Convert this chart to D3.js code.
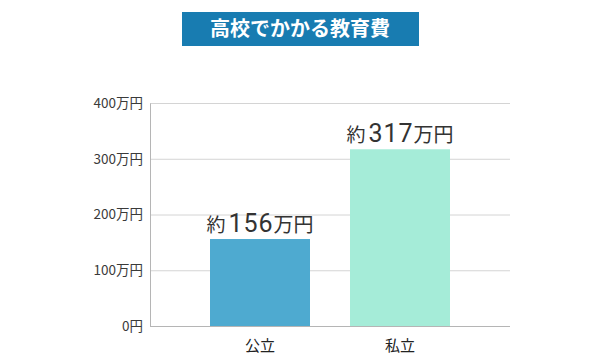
<!DOCTYPE html>
<html>
<head>
<meta charset="utf-8">
<script src="https://cdn.jsdelivr.net/npm/d3@7"></script>
<style>
  body { margin: 0; background: #fff; }
  svg text { font-family: "Noto Sans CJK JP", "Noto Sans", sans-serif; }
</style>
</head>
<body>
<script>
// Data
const categories = ["公立", "私立"];
const values = [156, 317];
const barColors = ["#4eaad0", "#a5ecd8"];
const yTicks = [0, 100, 200, 300, 400];
const title = "高校でかかる教育費";

const width = 600, height = 360;
const margin = { top: 103, right: 90, bottom: 34, left: 150 };

const svg = d3.select("body")
    .append("svg")
    .attr("width", width)
    .attr("height", height);

// Title box
svg.append("rect")
    .attr("x", 182)
    .attr("y", 12)
    .attr("width", 237)
    .attr("height", 34)
    .attr("fill", "#187cb1");

svg.append("text")
    .attr("x", 300)
    .attr("y", 36)
    .attr("text-anchor", "middle")
    .attr("fill", "#fff")
    .attr("font-size", 20)
    .attr("font-weight", "bold")
    .text(title);

// Scales
const x = d3.scaleBand()
    .domain(categories)
    .range([margin.left, width - margin.right])
    .paddingInner(2 / 7)
    .paddingOuter(3 / 7);

const y = d3.scaleLinear()
    .domain([0, 400])
    .range([height - margin.bottom, margin.top]);

// Gridlines
svg.append("g")
    .selectAll("line")
    .data(yTicks)
    .join("line")
    .attr("x1", margin.left)
    .attr("x2", width - margin.right)
    .attr("y1", d => y(d) + 0.5)
    .attr("y2", d => y(d) + 0.5)
    .attr("stroke", "#d4d4d4")
    .attr("stroke-width", 1);

// Y axis
const yAxis = svg.append("g")
    .attr("transform", `translate(${margin.left},0)`)
    .call(d3.axisLeft(y)
        .tickValues(yTicks)
        .tickSize(0)
        .tickPadding(7)
        .tickFormat(d => d === 0 ? "0円" : d + "万円"));
yAxis.select(".domain").attr("stroke", "#b5b5b5");
yAxis.selectAll("text")
    .attr("font-size", 13.5)
    .attr("fill", "#3a3a3a")
    .style("font-family", "\"Noto Sans CJK JP\", sans-serif");

// Bars
svg.append("g")
    .selectAll("rect")
    .data(values)
    .join("rect")
    .attr("x", (d, i) => x(categories[i]))
    .attr("y", d => y(d))
    .attr("width", x.bandwidth())
    .attr("height", d => y(0) - y(d))
    .attr("fill", (d, i) => barColors[i]);

// Baseline
svg.append("line")
    .attr("x1", margin.left)
    .attr("x2", width - margin.right)
    .attr("y1", y(0) + 0.5)
    .attr("y2", y(0) + 0.5)
    .attr("stroke", "#b5b5b5");

// Value labels
const labels = svg.append("g")
    .selectAll("text")
    .data(values)
    .join("text")
    .attr("x", (d, i) => x(categories[i]) + x.bandwidth() / 2)
    .attr("y", d => y(d) - 7)
    .attr("text-anchor", "middle")
    .attr("fill", "#333");
labels.append("tspan").attr("font-size", 19).text("約");
labels.append("tspan")
    .attr("dx", 3)
    .attr("font-size", 25)
    .attr("letter-spacing", 1)
    .style("font-family", "Roboto, sans-serif")
    .text(d => d);
labels.append("tspan").attr("font-size", 20).text("万円");

// Category labels
svg.append("g")
    .selectAll("text")
    .data(categories)
    .join("text")
    .attr("x", d => x(d) + x.bandwidth() / 2)
    .attr("y", 351)
    .attr("text-anchor", "middle")
    .attr("font-size", 15)
    .attr("fill", "#222")
    .text(d => d);
</script>
</body>
</html>
